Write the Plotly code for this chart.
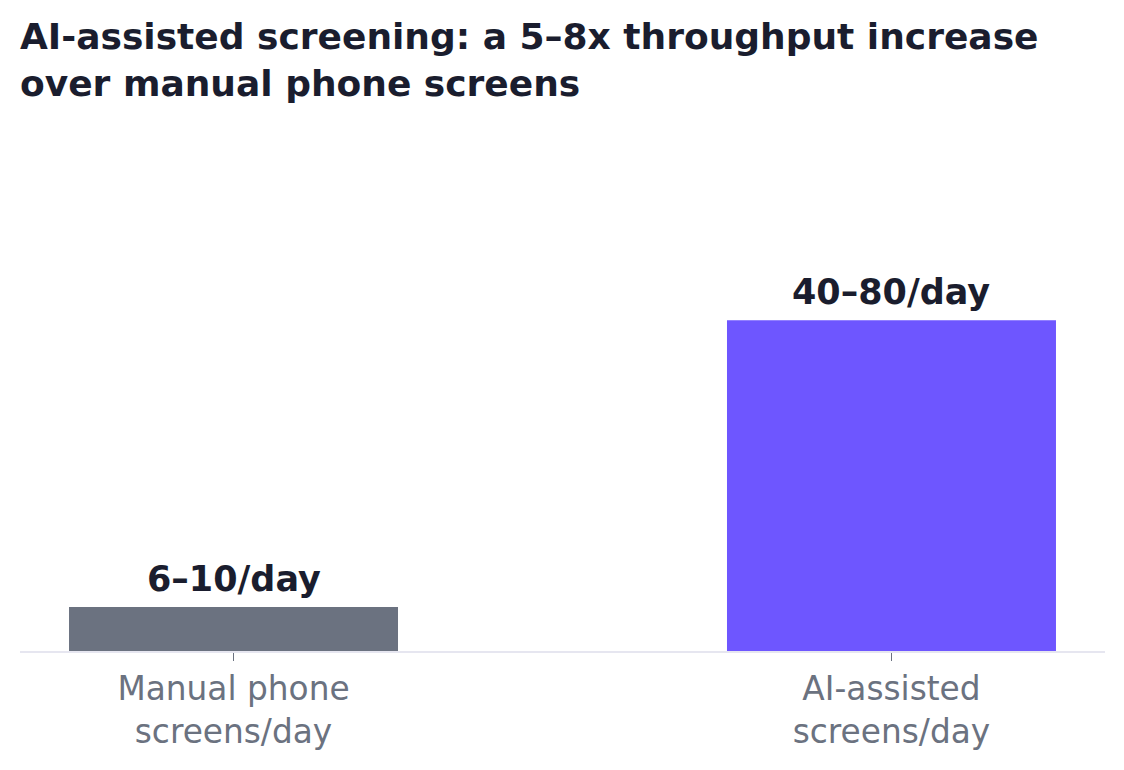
import plotly.graph_objects as go

categories = ["Manual phone<br>screens/day", "AI-assisted<br>screens/day"]
values = [8, 60]
labels = ["6–10/day", "40–80/day"]
colors = ["#6b7280", "#6e56ff"]
title_text = "<b>AI-assisted screening: a 5–8x throughput increase<br>over manual phone screens</b>"

fig = go.Figure(go.Bar(
    x=categories, y=values,
    marker=dict(color=colors, line=dict(width=0)), width=0.5,
    cliponaxis=False,
))

for c, v, t in zip(categories, values, labels):
    fig.add_annotation(
        x=c, y=v, xref="x", yref="y", text=f"<b>{t}</b>", showarrow=False,
        xanchor="center", yanchor="bottom", yshift=6,
        font=dict(family="DejaVu Sans", size=35, color="#1a1d2e"),
    )

fig.add_annotation(
    x=0, xref="paper", xanchor="left", xshift=-2,
    y=(651 - 59.5) / 397, yref="paper", yanchor="middle",
    text=title_text, showarrow=False, align="left",
    font=dict(family="DejaVu Sans", size=36, color="#1a1d2e"),
)

fig.update_layout(
    width=1124, height=770,
    margin=dict(l=20, r=19, t=254, b=119),
    paper_bgcolor="white", plot_bgcolor="white",
    font=dict(family="DejaVu Sans"),
    showlegend=False,
)
fig.update_xaxes(
    range=[-0.3245, 1.3245], showline=True, linecolor="#e6e6f0", linewidth=2,
    ticks="outside", ticklen=8, tickcolor="#6b7280", tickwidth=1,
    tickfont=dict(family="DejaVu Sans", size=32.8, color="#6b7280"),
    showgrid=False,
)
fig.update_yaxes(range=[0, 72], visible=False, showgrid=False)

fig.write_html("out.html")
